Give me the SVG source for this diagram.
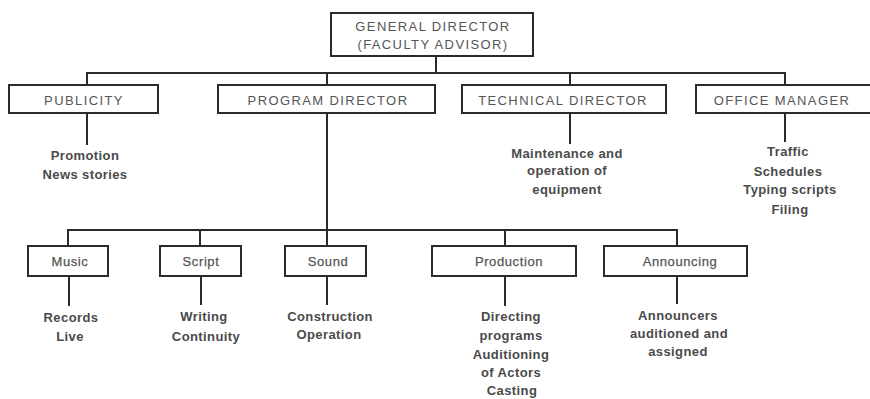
<svg xmlns="http://www.w3.org/2000/svg" width="870" height="399" viewBox="0 0 870 399">
  <style>
    .box { fill: #fff; stroke: #2b2b2b; stroke-width: 2; }
    .conn line { stroke: #2b2b2b; stroke-width: 2; stroke-linecap: square; }
    .cap { font-family: "Liberation Sans", Arial, sans-serif; font-size: 13px; letter-spacing: 1.4px; fill: #555; text-anchor: middle; }
    .lbl { font-family: "Liberation Sans", Arial, sans-serif; font-size: 13px; letter-spacing: 0.6px; fill: #555; stroke: #555; stroke-width: 0.25px; text-anchor: middle; }
    .duty { font-family: "Liberation Sans", Arial, sans-serif; font-size: 13px; font-weight: bold; letter-spacing: 0.4px; fill: #4a4a4a; text-anchor: middle; }
  </style>
  <rect width="870" height="399" fill="#fff"/>

  <!-- connectors -->
  <g id="connectors" class="conn">
    <line x1="436" y1="56" x2="436" y2="73"/>
    <line x1="87" y1="73" x2="785" y2="73"/>
    <line x1="87" y1="73" x2="87" y2="85"/>
    <line x1="327" y1="73" x2="327" y2="85"/>
    <line x1="570" y1="73" x2="570" y2="85"/>
    <line x1="785" y1="73" x2="785" y2="85"/>
    <line x1="87" y1="113" x2="87" y2="144"/>
    <line x1="570" y1="113" x2="570" y2="143"/>
    <line x1="785" y1="113" x2="785" y2="141"/>
    <line x1="327" y1="113" x2="327" y2="230"/>
    <line x1="68" y1="230" x2="677" y2="230"/>
    <line x1="68" y1="230" x2="68" y2="246"/>
    <line x1="200" y1="230" x2="200" y2="246"/>
    <line x1="327" y1="230" x2="327" y2="246"/>
    <line x1="505" y1="230" x2="505" y2="246"/>
    <line x1="677" y1="230" x2="677" y2="246"/>
    <line x1="69" y1="276" x2="69" y2="305"/>
    <line x1="201" y1="276" x2="201" y2="304"/>
    <line x1="327" y1="276" x2="327" y2="304"/>
    <line x1="505" y1="276" x2="505" y2="305"/>
    <line x1="677" y1="276" x2="677" y2="303"/>
  </g>

  <!-- top level -->
  <g id="general-director">
    <rect class="box" x="331" y="13" width="202" height="43"/>
    <text class="cap" x="433" y="31">GENERAL DIRECTOR</text>
    <text class="cap" x="433" y="49">(FACULTY ADVISOR)</text>
  </g>

  <!-- department heads -->
  <g id="publicity">
    <rect class="box" x="9" y="85" width="149" height="28"/>
    <text class="cap" x="84" y="105">PUBLICITY</text>
    <text class="duty" x="85" y="160">Promotion</text>
    <text class="duty" x="85" y="179">News stories</text>
  </g>
  <g id="program-director">
    <rect class="box" x="218" y="85" width="217" height="28"/>
    <text class="cap" x="328" y="105">PROGRAM DIRECTOR</text>
  </g>
  <g id="technical-director">
    <rect class="box" x="462" y="85" width="204" height="28"/>
    <text class="cap" x="563" y="105">TECHNICAL DIRECTOR</text>
    <text class="duty" x="567" y="158">Maintenance and</text>
    <text class="duty" x="567" y="175">operation of</text>
    <text class="duty" x="567" y="194">equipment</text>
  </g>
  <g id="office-manager">
    <rect class="box" x="696" y="85" width="180" height="28"/>
    <text class="cap" x="782" y="105">OFFICE MANAGER</text>
    <text class="duty" x="788" y="156">Traffic</text>
    <text class="duty" x="788" y="176">Schedules</text>
    <text class="duty" x="790" y="194">Typing scripts</text>
    <text class="duty" x="790" y="214">Filing</text>
  </g>

  <!-- program sections -->
  <g id="music">
    <rect class="box" x="28" y="246" width="80" height="30"/>
    <text class="lbl" x="70" y="266">Music</text>
    <text class="duty" x="71" y="322">Records</text>
    <text class="duty" x="70" y="341">Live</text>
  </g>
  <g id="script">
    <rect class="box" x="160" y="246" width="81" height="30"/>
    <text class="lbl" x="201" y="266">Script</text>
    <text class="duty" x="204" y="321">Writing</text>
    <text class="duty" x="206" y="341">Continuity</text>
  </g>
  <g id="sound">
    <rect class="box" x="285" y="246" width="81" height="30"/>
    <text class="lbl" x="328" y="266">Sound</text>
    <text class="duty" x="330" y="321">Construction</text>
    <text class="duty" x="329" y="339">Operation</text>
  </g>
  <g id="production">
    <rect class="box" x="432" y="246" width="144" height="30"/>
    <text class="lbl" x="509" y="266">Production</text>
    <text class="duty" x="511" y="321">Directing</text>
    <text class="duty" x="511" y="340">programs</text>
    <text class="duty" x="511" y="359">Auditioning</text>
    <text class="duty" x="511" y="377">of Actors</text>
    <text class="duty" x="512" y="395">Casting</text>
  </g>
  <g id="announcing">
    <rect class="box" x="604" y="246" width="143" height="30"/>
    <text class="lbl" x="680" y="266">Announcing</text>
    <text class="duty" x="678" y="320">Announcers</text>
    <text class="duty" x="679" y="338">auditioned and</text>
    <text class="duty" x="678" y="356">assigned</text>
  </g>
</svg>
